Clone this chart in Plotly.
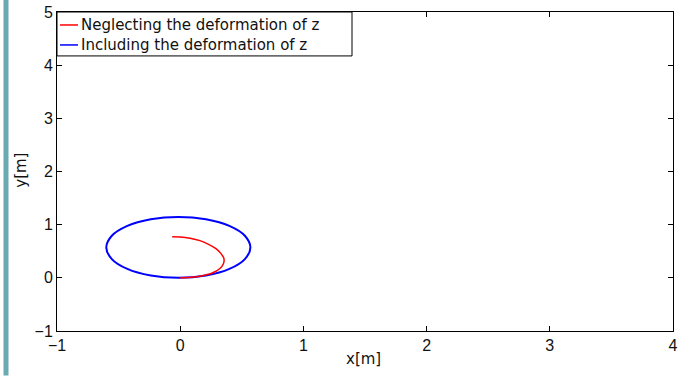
import plotly.graph_objects as go

# Red trajectory (neglecting deformation of z)
red_x = [0.0, 0.09, 0.18, 0.26, 0.32, 0.35, 0.355, 0.33, 0.29, 0.23, 0.16, 0.08, 0.0, -0.065]
red_y = [0.0, 0.01, 0.04, 0.09, 0.17, 0.26, 0.36, 0.46, 0.55, 0.63, 0.70, 0.745, 0.77, 0.775]

# Blue trajectory (including deformation of z)
blue_x = [-0.015, 0.209, 0.399, 0.525, 0.570, 0.525, 0.399, 0.209, -0.015, -0.239, -0.429,
          -0.555, -0.600, -0.555, -0.429, -0.239, -0.015]
blue_y = [0.0, 0.043, 0.167, 0.353, 0.572, 0.791, 0.977, 1.101, 1.145, 1.101, 0.977,
          0.791, 0.572, 0.353, 0.167, 0.043, 0.0]

x_ticks = [-1, 0, 1, 2, 3, 4]
y_ticks = [-1, 0, 1, 2, 3, 4, 5]
legend_labels = ["Neglecting the deformation of z", "Including the deformation of z"]
colors = ["#ff0000", "#0000ff"]

fig = go.Figure()
fig.add_trace(go.Scatter(x=blue_x, y=blue_y, mode="lines", line=dict(color=colors[1], width=2.0, shape="spline"),
                         name=legend_labels[1], showlegend=False))
fig.add_trace(go.Scatter(x=red_x, y=red_y, mode="lines", line=dict(color=colors[0], width=1.5, shape="spline"),
                         name=legend_labels[0], showlegend=False))

W, H = 690, 376
L, R, T, B = 57, 673, 12, 331.5
pw, ph = R - L, B - T

def px(x):
    return (x - L) / pw

def py(y):
    return (B - y) / ph

txt_font = dict(family="DejaVu Sans", size=15, color="#111111")

shapes = []
annotations = []
# left teal bar
shapes.append(dict(type="rect", xref="paper", yref="paper", x0=px(3.5), x1=px(8.5), y0=py(376), y1=py(0),
                   fillcolor="#6aaab2", line=dict(width=0), layer="above"))
# legend box
shapes.append(dict(type="rect", xref="paper", yref="paper", x0=0, x1=px(352), y0=py(56), y1=1,
                   fillcolor="white", line=dict(color="black", width=1), layer="above"))
rows_y = [25, 45]
for lab, col, ry in zip(legend_labels, colors, rows_y):
    shapes.append(dict(type="line", xref="paper", yref="paper", x0=px(60), x1=px(78), y0=py(ry), y1=py(ry),
                       line=dict(color=col, width=1.5), layer="above"))
    annotations.append(dict(xref="paper", yref="paper", x=px(79), y=py(ry), xanchor="left", yanchor="middle",
                            text=lab, showarrow=False, font=txt_font))

# axis titles as annotations (fixed positions)
annotations.append(dict(xref="paper", yref="paper", x=px(363), y=py(360), xanchor="center", yanchor="middle",
                        text="x[m]", showarrow=False, font=txt_font))
annotations.append(dict(xref="paper", yref="paper", x=px(21), y=py(171), xanchor="center", yanchor="middle",
                        text="y[m]", showarrow=False, textangle=-90, font=txt_font))

axis_common = dict(showgrid=False, zeroline=False, showline=True, linecolor="black", linewidth=1,
                   mirror="ticks", ticks="inside", ticklen=5, tickcolor="black", tickwidth=1,
                   automargin=False,
                   tickfont=dict(family="Liberation Sans", size=16, color="#111111"))

fig.update_layout(
    width=W, height=H,
    margin=dict(l=L, r=W - R, t=T, b=H - B, pad=0, autoexpand=False),
    paper_bgcolor="white", plot_bgcolor="white",
    xaxis=dict(range=[-1, 4], tickvals=x_ticks, ticktext=[str(v) if v >= 0 else "\u22121" for v in x_ticks],
               **axis_common),
    yaxis=dict(range=[-1, 5], tickvals=y_ticks, ticktext=[str(v) if v >= 0 else "\u22121" for v in y_ticks],
               **axis_common),
    shapes=shapes, annotations=annotations, showlegend=False,
)

fig.write_html("out.html", config={"displayModeBar": False},
               post_script="document.body.style.margin='0px';document.body.style.overflow='hidden';")
